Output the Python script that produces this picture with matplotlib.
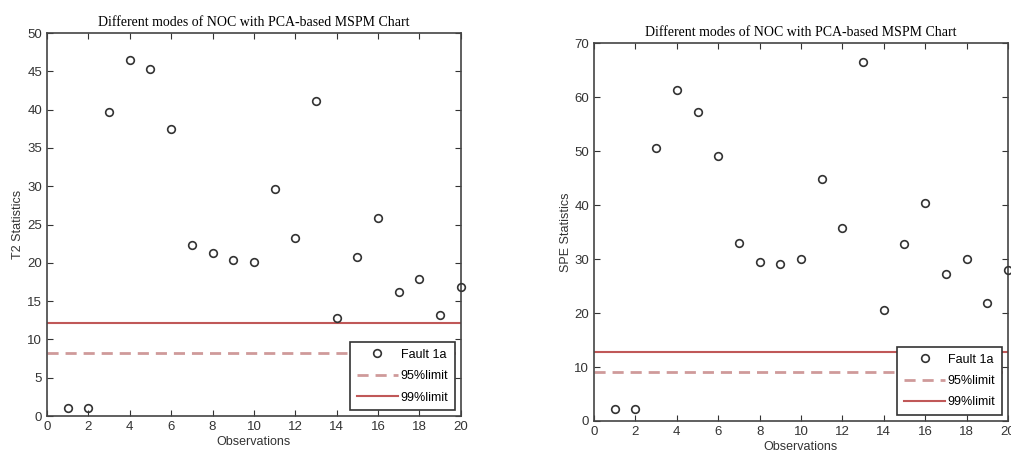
import matplotlib.pyplot as plt

obs = list(range(1, 21))
t2 = [1.0, 1.0, 39.7, 46.5, 45.3, 37.5, 22.3, 21.3, 20.4, 20.1,
      29.6, 23.2, 41.2, 12.8, 20.7, 25.8, 16.2, 17.9, 13.2, 16.9]
spe = [2.2, 2.2, 50.6, 61.3, 57.2, 49.0, 32.9, 29.4, 29.0, 30.0,
       44.9, 35.7, 66.5, 20.6, 32.7, 40.4, 27.2, 30.0, 21.8, 28.0]
t2_lim95, t2_lim99 = 8.2, 12.1
spe_lim95, spe_lim99 = 9.1, 12.8

title = 'Different modes of NOC with PCA-based MSPM Chart'
c99 = '#c05858'
c95 = '#cf9a9a'

plt.rcParams['font.family'] = ['Liberation Sans Narrow', 'Liberation Sans', 'DejaVu Sans']

fig = plt.figure(figsize=(10.12, 4.58), dpi=100)
ax1 = fig.add_axes([0.0464, 0.0917, 0.409, 0.836])
ax2 = fig.add_axes([0.587, 0.0808, 0.409, 0.825])


def draw(ax, y, lim95, lim99, ymax, ystep, ylabel):
    ax.plot(obs, y, 'o', mfc='none', mec='#333333', ms=5.5, mew=1.2,
            label='Fault 1a', clip_on=False, zorder=3)
    ax.axhline(lim95, color=c95, ls='--', lw=2, dashes=(4, 2.5), label='95%limit')
    ax.axhline(lim99, color=c99, ls='-', lw=1.5, label='99%limit')
    ax.set_xlim(0, 20)
    ax.set_ylim(0, ymax)
    ax.set_xticks(range(0, 21, 2))
    ax.set_yticks(range(0, ymax + 1, ystep))
    ax.tick_params(direction='in', top=True, right=True, labelsize=9.5,
                   colors='#333333', length=4)
    for s in ax.spines.values():
        s.set_color('#444444')
        s.set_linewidth(1.2)
    ax.set_xlabel('Observations', fontsize=9, color='#333333', labelpad=2)
    ax.set_ylabel(ylabel, fontsize=9, color='#333333', labelpad=2)
    ax.set_title(title, fontsize=10, family='Liberation Serif', pad=5)
    leg = ax.legend(loc='lower right', fontsize=9, fancybox=False,
                    borderaxespad=0.45, borderpad=0.55, handlelength=3.3,
                    handletextpad=0.2, labelspacing=0.75)
    leg.get_frame().set_edgecolor('#333333')
    leg.get_frame().set_linewidth(1.2)
    leg.get_frame().set_alpha(1)


draw(ax1, t2, t2_lim95, t2_lim99, 50, 5, 'T2 Statistics')
draw(ax2, spe, spe_lim95, spe_lim99, 70, 10, 'SPE Statistics')

fig.savefig('out.png', dpi=100)
